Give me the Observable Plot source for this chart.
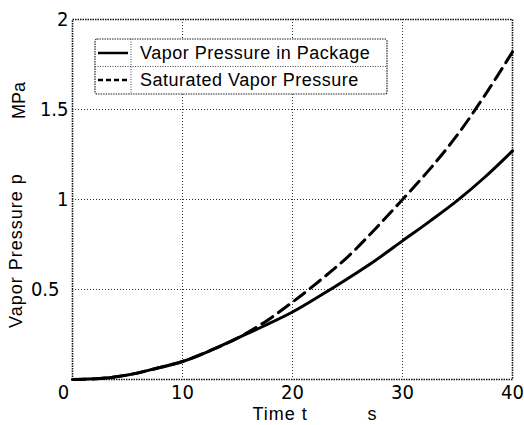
<!DOCTYPE html>
<html>
<head>
<meta charset="utf-8">
<script src="https://cdn.jsdelivr.net/npm/d3@7"></script>
<script src="https://cdn.jsdelivr.net/npm/@observablehq/plot@0.6"></script>
<style>
  html, body { margin: 0; padding: 0; background: #fff; }
  #chart { width: 524px; height: 425px; }
  .tick-narrow text { font-stretch: condensed; }
</style>
</head>
<body>
<div id="chart"></div>
<script>
const time = [0, 2.5, 5, 7.5, 10, 12.5, 15, 17.5, 20, 22.5, 25, 27.5, 30, 32.5, 35, 37.5, 40];
const packagePressure = [0, 0.005, 0.025, 0.06, 0.10, 0.16, 0.23, 0.30, 0.375, 0.465, 0.56, 0.66, 0.77, 0.88, 0.995, 1.125, 1.27];
const saturatedPressure = [0, 0.005, 0.025, 0.06, 0.10, 0.16, 0.23, 0.32, 0.43, 0.55, 0.68, 0.835, 1.0, 1.17, 1.36, 1.58, 1.82];
const xTicks = [0, 10, 20, 30, 40];
const yTicks = [0.5, 1, 1.5, 2];
const xGrid = [10, 20, 30];
const yGrid = [0.5, 1, 1.5];
const seriesNames = ["Vapor Pressure in Package", "Saturated Vapor Pressure"];

const pkgData = time.map((t, i) => ({t, p: packagePressure[i]}));
const satData = time.map((t, i) => ({t, p: saturatedPressure[i]}));

const narrow = "'Liberation Sans Narrow', 'DejaVu Sans Condensed', 'Liberation Sans', sans-serif";
const regular = "'Liberation Sans', Arial, sans-serif";

const plot = Plot.plot({
  width: 524,
  height: 425,
  marginLeft: 72,
  marginRight: 12,
  marginTop: 19,
  marginBottom: 46,
  style: {background: "#fff", color: "#000", fontFamily: regular, fontSize: "20px"},
  x: {domain: [0, 40]},
  y: {domain: [0, 2]},
  marks: [
    Plot.gridX(xGrid, {stroke: "#333", strokeOpacity: 1, strokeDasharray: "1,2", strokeWidth: 1}),
    Plot.gridY(yGrid, {stroke: "#333", strokeOpacity: 1, strokeDasharray: "1,2", strokeWidth: 1}),
    Plot.frame({stroke: "#111", strokeDasharray: "1.5,1", strokeWidth: 1.6}),
    Plot.axisX(xTicks, {tickSize: 0, tickPadding: 5, label: null, fontSize: 20, fontFamily: narrow, className: "tick-narrow", tickFormat: d => String(d)}),
    Plot.axisY(yTicks, {tickSize: 0, tickPadding: 4, label: null, fontSize: 20, fontFamily: narrow, className: "tick-narrow", tickFormat: d => String(d)}),
    Plot.line(pkgData, {x: "t", y: "p", stroke: "#000", strokeWidth: 3, curve: "catmull-rom"}),
    Plot.line(satData, {x: "t", y: "p", stroke: "#000", strokeWidth: 3, strokeDasharray: "13,7", curve: "catmull-rom"}),
    Plot.text(["Vapor Pressure p"], {frameAnchor: "left", rotate: -90, dx: -56, dy: 51, fontSize: 18, fontFamily: regular, lineAnchor: "middle", textAnchor: "middle"}),
    Plot.text(["MPa"], {frameAnchor: "left", rotate: -90, dx: -53, dy: -99, fontSize: 18, fontFamily: regular, lineAnchor: "middle", textAnchor: "middle"}),
    Plot.text(["Time t"], {frameAnchor: "bottom", dx: -40, dy: 35, fontSize: 18, fontFamily: regular, lineAnchor: "middle", textAnchor: "start"}),
    Plot.text(["s"], {frameAnchor: "bottom", dx: 75, dy: 35, fontSize: 18, fontFamily: regular, lineAnchor: "middle", textAnchor: "start"})
  ]
});

document.getElementById("chart").appendChild(plot);

const svg = d3.select(plot);
// shift the "0" x tick label slightly left, as in the reference
svg.selectAll(".tick-narrow text").filter(d => d === 0).attr("dx", -9);
svg.selectAll("text").filter(function () { return this.textContent === "Vapor Pressure p" || this.textContent === "Time t"; })
  .style("letter-spacing", "1px");

// legend
const lg = svg.append("g").attr("font-family", regular).attr("font-size", 18).attr("fill", "#000").attr("text-anchor", "start");
lg.append("rect").attr("x", 95).attr("y", 39).attr("width", 292).attr("height", 55)
  .attr("fill", "#fff").attr("stroke", "#222").attr("stroke-width", 1.2).attr("stroke-dasharray", "1.5,1").attr("rx", 2);
lg.append("line").attr("x1", 95).attr("x2", 387).attr("y1", 66.5).attr("y2", 66.5)
  .attr("stroke", "#444").attr("stroke-dasharray", "1,1.5");
lg.append("line").attr("x1", 131).attr("x2", 131).attr("y1", 39).attr("y2", 94)
  .attr("stroke", "#444").attr("stroke-dasharray", "1,1.5");
lg.append("line").attr("x1", 98).attr("x2", 128).attr("y1", 53).attr("y2", 53)
  .attr("stroke", "#000").attr("stroke-width", 2.5);
lg.append("line").attr("x1", 98).attr("x2", 128).attr("y1", 80).attr("y2", 80)
  .attr("stroke", "#000").attr("stroke-width", 2.5).attr("stroke-dasharray", "5,3");
seriesNames.forEach((name, i) => {
  lg.append("text").attr("x", 140).attr("y", 53 + i * 27).attr("dy", "0.35em")
    .attr("text-anchor", "start").style("letter-spacing", "0.5px").text(name);
});
</script>
</body>
</html>
